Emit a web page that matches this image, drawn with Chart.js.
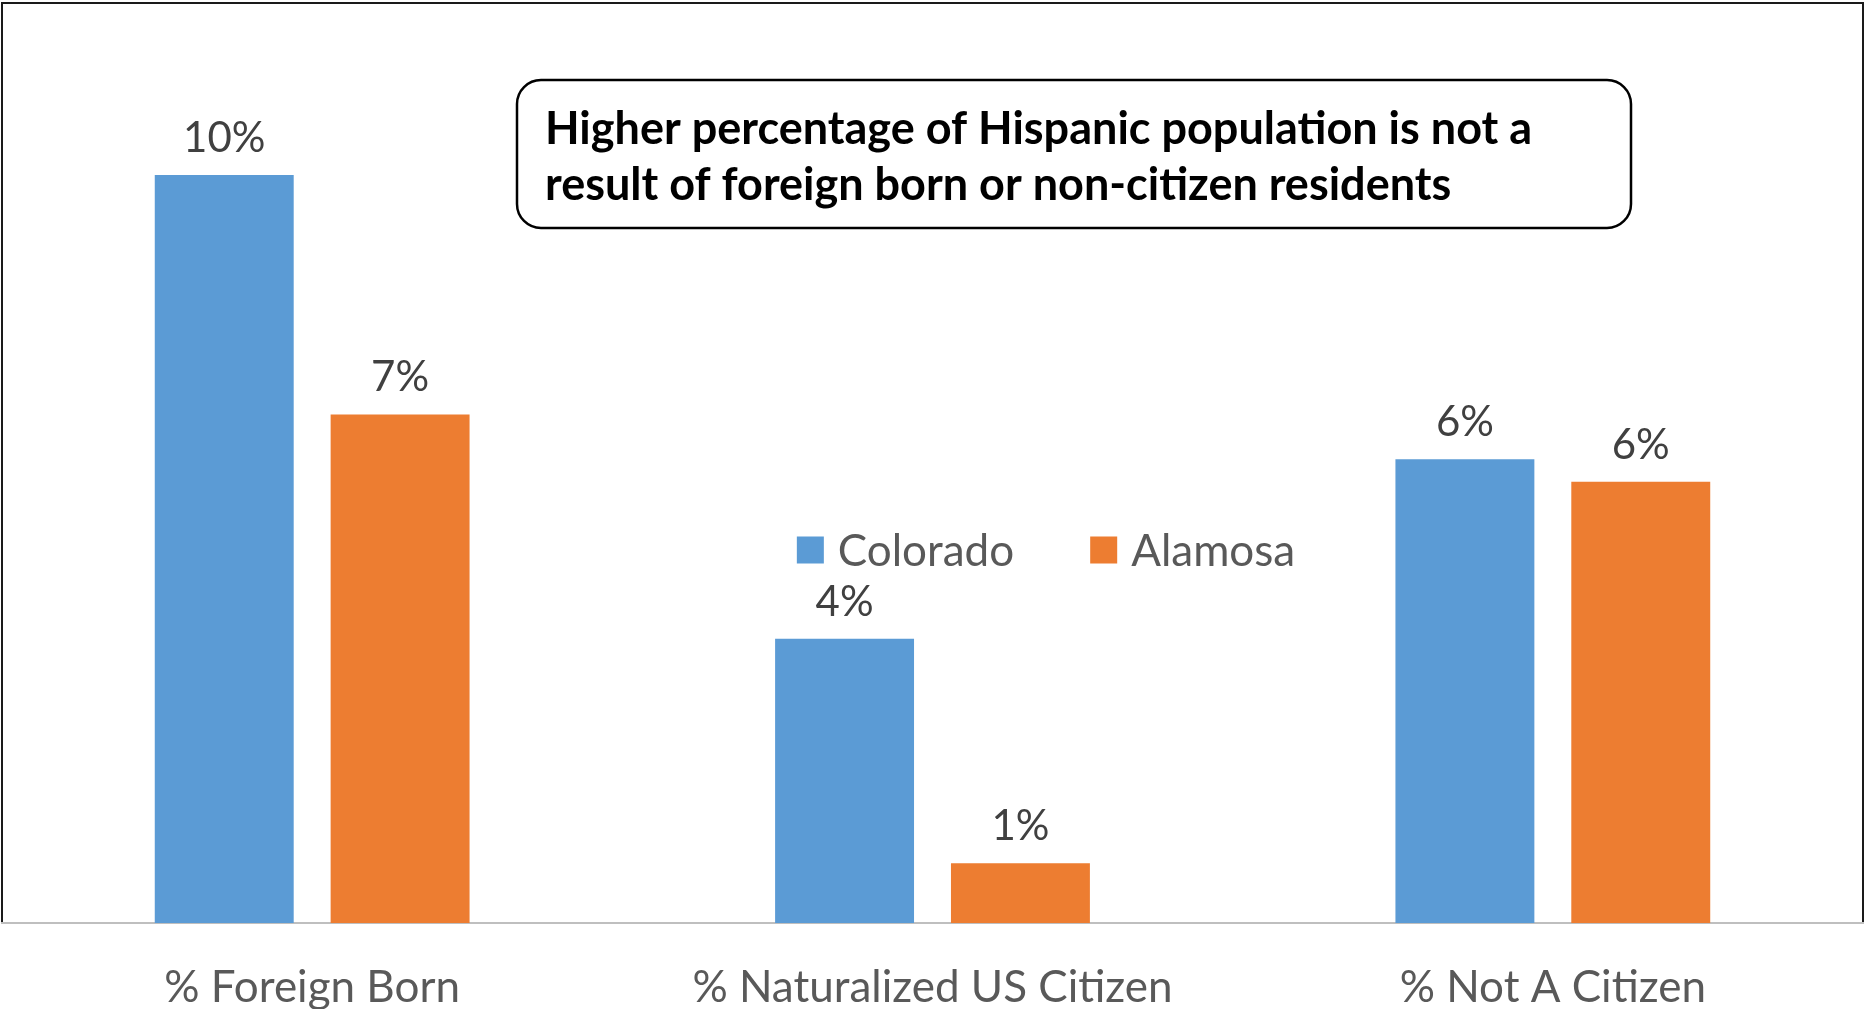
<!DOCTYPE html>
<html>
<head>
<meta charset="utf-8">
<script src="https://cdn.jsdelivr.net/npm/chart.js@4"></script>
<style>
  html, body { margin: 0; padding: 0; background: #fff; overflow: hidden; }
  #wrap { position: relative; width: 1865px; height: 1009px; }
</style>
</head>
<body>
<div id="wrap"><canvas id="myChart"></canvas></div>
<script>
      // categories and series
      const categories = ["% Foreign Born", "% Naturalized US Citizen", "% Not A Citizen"];
      const colorado = [0.100, 0.038, 0.062];
      const alamosa = [0.068, 0.008, 0.059];
      const seriesNames = ["Colorado", "Alamosa"];
      const noteLines = [
        "Higher percentage of Hispanic population is not a",
        "result of foreign born or non-citizen residents"
      ];

      const blue = "#5B9BD5";
      const orange = "#ED7D31";

      // frame round the plot (left, top, right), axis line is the bottom
      const framePlugin = {
        id: "frame",
        beforeDraw(chart) {
          const { ctx, chartArea } = chart;
          ctx.save();
          ctx.strokeStyle = "#1a1a1a";
          ctx.lineWidth = 2;
          ctx.beginPath();
          ctx.moveTo(chartArea.left, chartArea.bottom);
          ctx.lineTo(chartArea.left, chartArea.top);
          ctx.lineTo(chartArea.right, chartArea.top);
          ctx.lineTo(chartArea.right, chartArea.bottom);
          ctx.stroke();
          ctx.restore();
        }
      };

      // value labels above bars
      const labelPlugin = {
        id: "valueLabels",
        afterDatasetsDraw(chart) {
          const ctx = chart.ctx;
          ctx.save();
          ctx.font = "42px Lato";
          ctx.fillStyle = "#404040";
          ctx.textAlign = "center";
          ctx.textBaseline = "alphabetic";
          chart.data.datasets.forEach((ds, i) => {
            chart.getDatasetMeta(i).data.forEach((bar, j) => {
              ctx.fillText(Math.round(ds.data[j] * 100) + "%", bar.x, bar.y - 23);
            });
          });
          ctx.restore();
        }
      };

      // legend inside the plot, in the middle
      const legendPlugin = {
        id: "midLegend",
        afterDraw(chart) {
          const { ctx, chartArea } = chart;
          ctx.save();
          ctx.font = "44px Lato";
          ctx.textBaseline = "alphabetic";
          const box = 27, gap = 14, between = 76;
          const widths = chart.data.datasets.map(d => ctx.measureText(d.label).width);
          let total = 0;
          widths.forEach((w, i) => { total += box + gap + w + (i < widths.length - 1 ? between : 0); });
          const cx = chartArea.left + chartArea.width * 0.561;
          const cy = chartArea.top + 547;
          let x = cx - total / 2;
          chart.data.datasets.forEach((d, i) => {
            ctx.fillStyle = d.backgroundColor;
            ctx.fillRect(x, cy - box / 2, box, box);
            ctx.fillStyle = "#595959";
            ctx.fillText(d.label, x + box + gap, cy + 16);
            x += box + gap + widths[i] + between;
          });
          ctx.restore();
        }
      };

      // rounded note box
      const notePlugin = {
        id: "note",
        afterDraw(chart) {
          const { ctx, chartArea } = chart;
          const x = chartArea.left + 515, y = chartArea.top + 77;
          const w = 1114, h = 148;
          ctx.save();
          ctx.fillStyle = "#fff";
          ctx.strokeStyle = "#000";
          ctx.lineWidth = 2.5;
          ctx.beginPath();
          ctx.roundRect(x, y, w, h, 24);
          ctx.fill();
          ctx.stroke();
          ctx.fillStyle = "#000";
          ctx.font = "bold 45px Lato";
          ctx.textBaseline = "alphabetic";
          ctx.fillText(noteLines[0], x + 28, y + 64);
          ctx.fillText(noteLines[1], x + 28, y + 120);
          ctx.restore();
        }
      };

      function chartIt() {
        const ctx = document.getElementById("myChart").getContext("2d");
        const myChart = new Chart(ctx, {
          type: "bar",
          data: {
            labels: categories,
            datasets: [
              { label: seriesNames[0], data: colorado, backgroundColor: blue },
              { label: seriesNames[1], data: alamosa, backgroundColor: orange },
            ],
          },
          options: {
            responsive: true,
            maintainAspectRatio: false,
            animation: false,
            devicePixelRatio: 1,
            categoryPercentage: 0.567,
            barPercentage: 0.79,
            layout: { padding: { left: 2, right: 2, top: 3, bottom: 0 } },
            plugins: {
              legend: { display: false },
              tooltip: { enabled: false },
            },
            scales: {
              x: {
                grid: { display: false },
                border: { display: true, color: "#BFBFBF", width: 2 },
                ticks: {
                  color: "#595959",
                  font: { family: "Lato", size: 44 },
                  padding: 30,
                  maxRotation: 0,
                },
                afterFit(scale) { scale.height = 86; },
              },
              y: {
                display: false,
                min: 0,
                max: 0.123,
              },
            },
          },
          plugins: [framePlugin, labelPlugin, legendPlugin, notePlugin],
        });
      }

      document.fonts.load("40px Lato").then(() => document.fonts.load("bold 40px Lato")).then(chartIt);
</script>
</body>
</html>
